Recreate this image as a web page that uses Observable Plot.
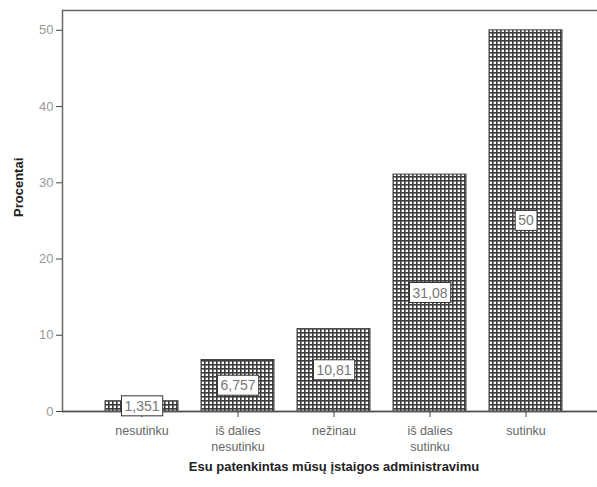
<!DOCTYPE html>
<html><head><meta charset="utf-8">
<script src="https://cdn.jsdelivr.net/npm/d3@7"></script>
<script src="https://cdn.jsdelivr.net/npm/@observablehq/plot@0.6"></script>
<style>body{margin:0;background:#fff}</style>
</head><body><div id="chart"></div>
<script>
const categories = ["nesutinku", "iš dalies nesutinku", "nežinau", "iš dalies sutinku", "sutinku"];
const tickLabels = ["nesutinku", "iš dalies\nnesutinku", "nežinau", "iš dalies\nsutinku", "sutinku"];
const values = [1.351, 6.757, 10.81, 31.08, 50];
const valueLabels = ["1,351", "6,757", "10,81", "31,08", "50"];
const yTicks = [0, 10, 20, 30, 40, 50];
const yLabel = "Procentai";
const xLabel = "Esu patenkintas mūsų įstaigos administravimu";

const data = categories.map((c, i) => ({category: c, value: values[i], label: valueLabels[i]}));
const font = "'Liberation Sans', Arial, sans-serif";

const plot = Plot.plot({
  width: 597, height: 487,
  marginLeft: 62, marginRight: -8, marginTop: 10, marginBottom: 76,
  style: {fontFamily: font, background: "white"},
  x: {domain: categories, paddingInner: 0.235, paddingOuter: 0.425, axis: null},
  y: {domain: [0, 52.6], axis: null},
  marks: [
    Plot.frame({stroke: "#666", strokeWidth: 1.5}),
    Plot.barY(data, {x: "category", y: "value", fill: "url(#gridpat)", stroke: "#444", strokeWidth: 1}),
    Plot.ruleY([0], {stroke: "#555", strokeWidth: 1.5}),
    Plot.axisY({ticks: yTicks, tickSize: 6, tickPadding: 3, label: null, fill: "#999", stroke: "#444", fontSize: 13}),
    Plot.axisX({tickSize: 6, tickPadding: 6, label: null, fill: "#666", stroke: "#444", fontSize: 12.5, lineHeight: 1.3,
      tickFormat: d => tickLabels[categories.indexOf(d)]}),
    Plot.text(data, {x: "category", y: d => d.value / 2, text: "label", fill: "#777", fontSize: 14}),
    Plot.text([yLabel], {frameAnchor: "left", dx: -44, dy: 6, rotate: -90, fontWeight: "bold", fontSize: 13, fill: "#222"}),
    Plot.text([xLabel], {frameAnchor: "bottom", dy: 59, fontWeight: "bold", fontSize: 13, fill: "#222"})
  ]
});

document.getElementById("chart").appendChild(plot);

// hatch pattern definition
const defs = d3.select(plot).insert("defs", ":first-child");
const pat = defs.append("pattern").attr("id", "gridpat").attr("patternUnits", "userSpaceOnUse")
  .attr("width", 4).attr("height", 4);
pat.append("rect").attr("width", 4).attr("height", 4).attr("fill", "#fff");
pat.append("rect").attr("x", 0).attr("y", 0).attr("width", 4).attr("height", 1.6).attr("fill", "#3c3c3c");
pat.append("rect").attr("x", 0).attr("y", 0).attr("width", 1.6).attr("height", 4).attr("fill", "#3c3c3c");

// white boxes behind value labels (the value-label mark is drawn after the axes)
const texts = Array.from(plot.querySelectorAll("text"))
  .filter(t => valueLabels.includes(t.textContent))
  .slice(-valueLabels.length);
for (const t of texts) {
  const b = t.getBBox();
  const r = document.createElementNS("http://www.w3.org/2000/svg", "rect");
  r.setAttribute("x", b.x - 3);
  r.setAttribute("y", b.y - 2);
  r.setAttribute("width", b.width + 6);
  r.setAttribute("height", b.height + 4);
  r.setAttribute("fill", "#fff");
  r.setAttribute("stroke", "#333");
  r.setAttribute("stroke-width", 1);
  const tr = t.getAttribute("transform");
  if (tr) r.setAttribute("transform", tr);
  t.parentNode.insertBefore(r, t);
}
</script>
</body></html>
